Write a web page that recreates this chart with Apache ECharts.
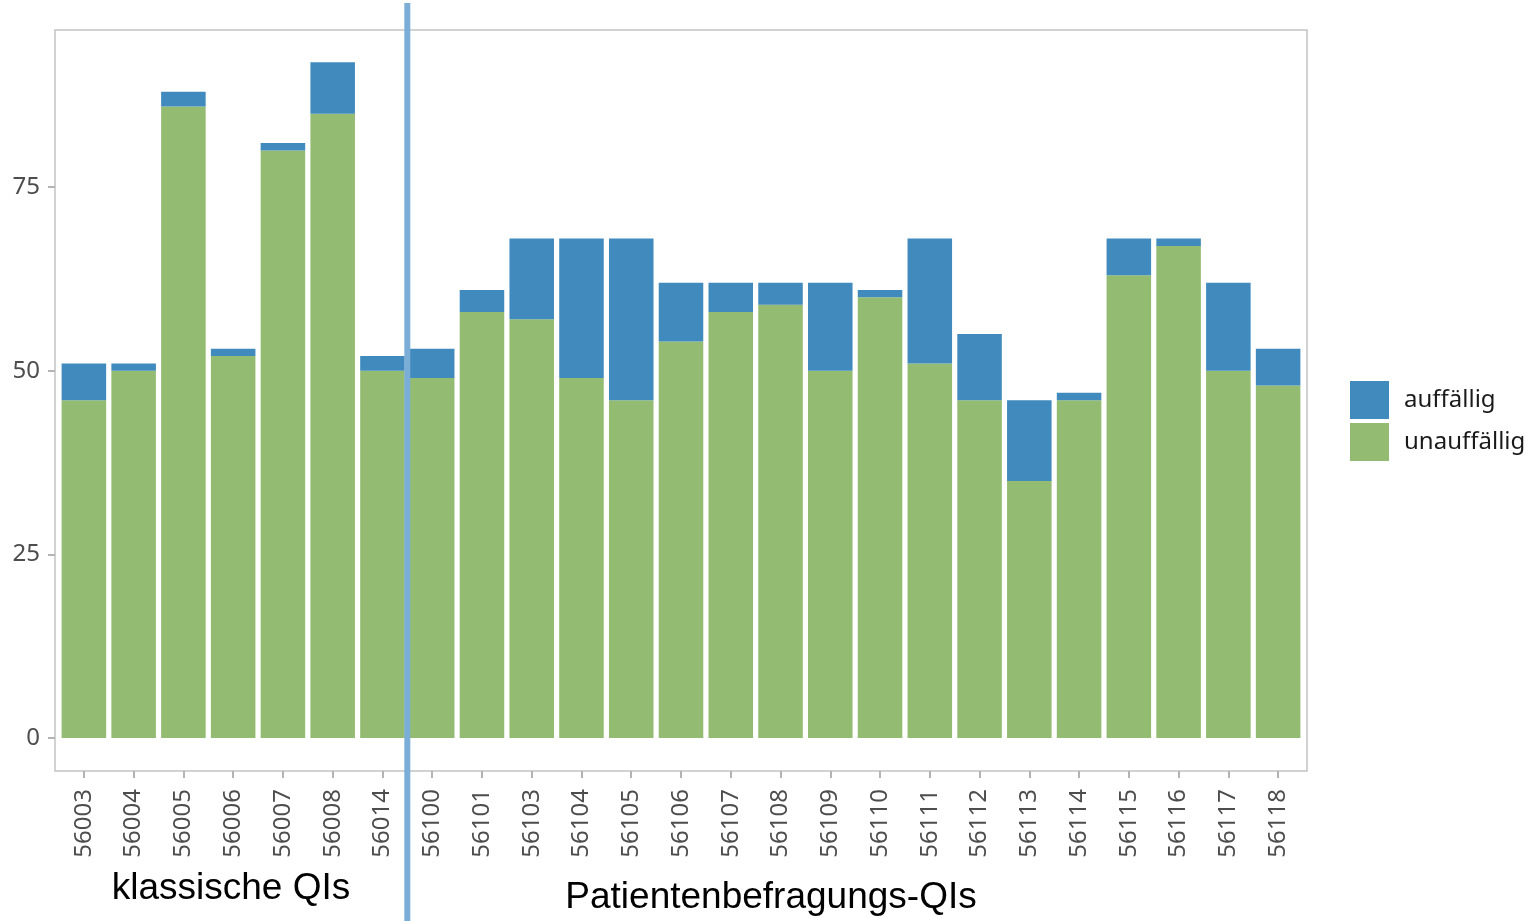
<!DOCTYPE html>
<html>
<head>
<meta charset="utf-8">
<script src="https://cdn.jsdelivr.net/npm/echarts@6/dist/echarts.min.js"></script>
<style>
  html, body { margin: 0; padding: 0; background: #fff; }
  #chart { width: 1532px; height: 921px; }
</style>
</head>
<body>
<div id="chart"></div>
<script>
// Kennzahlen (QI-IDs)
const kategorien = ['56003', '56004', '56005', '56006', '56007', '56008', '56014',
  '56100', '56101', '56103', '56104', '56105', '56106', '56107', '56108', '56109',
  '56110', '56111', '56112', '56113', '56114', '56115', '56116', '56117', '56118'];
// unauffällig (grün, unten)
const unauffaellig = [46, 50, 86, 52, 80, 85, 50,
  49, 58, 57, 49, 46, 54, 58, 59, 50, 60, 51, 46, 35, 46, 63, 67, 50, 48];
// auffällig (blau, oben)
const auffaellig = [5, 1, 2, 1, 1, 7, 2,
  4, 3, 11, 19, 22, 8, 4, 3, 12, 1, 17, 9, 11, 1, 5, 1, 12, 5];
const yTicks = [0, 25, 50, 75];
// Anzahl klassischer QIs (danach Trennlinie)
const anzahlKlassisch = 7;

const chart = echarts.init(document.getElementById('chart'));

const option = {
  animation: false,
  backgroundColor: '#fff',
  grid: { left: 59, right: 229, top: 30, bottom: 150 },
  legend: {
    orient: 'vertical',
    left: 1350,
    top: 381,
    padding: 0,
    itemWidth: 39,
    itemHeight: 38,
    itemGap: 4,
    icon: 'rect',
    data: ['auffällig', 'unauffällig'],
    textStyle: { fontFamily: 'Noto Sans', fontSize: 24, color: '#1a1a1a', padding: [0, 0, 0, 10] }
  },
  xAxis: {
    type: 'category',
    data: kategorien,
    axisLine: { show: false, onZero: false },
    axisTick: { show: true, alignWithLabel: true, length: 7, lineStyle: { color: '#b3b3b3', width: 2 } },
    axisLabel: { rotate: 90, margin: 18, fontFamily: 'Noto Sans', fontSize: 24, color: '#4d4d4d' },
    splitLine: { show: false }
  },
  yAxis: {
    type: 'value',
    min: -4.5,
    max: 96.4,
    offset: 4,
    axisLine: { show: false },
    axisTick: { show: true, length: 7, customValues: yTicks, lineStyle: { color: '#b3b3b3', width: 2 } },
    axisLabel: { customValues: yTicks, margin: 15, fontFamily: 'Noto Sans', fontSize: 24, color: '#4d4d4d' },
    splitLine: { show: false }
  },
  series: [
    {
      name: 'unauffällig',
      type: 'bar',
      stack: 'gesamt',
      data: unauffaellig,
      barCategoryGap: '10.5%',
      itemStyle: { color: '#93bb71' }
    },
    {
      name: 'auffällig',
      type: 'bar',
      stack: 'gesamt',
      data: auffaellig,
      barCategoryGap: '10.5%',
      itemStyle: { color: '#418abd' }
    }
  ]
};
chart.setOption(option);

// Trennlinie zwischen klassischen und Patientenbefragungs-QIs
const xa = chart.convertToPixel({ xAxisIndex: 0 }, anzahlKlassisch - 1);
const xb = chart.convertToPixel({ xAxisIndex: 0 }, anzahlKlassisch);
const xTrenn = (xa + xb) / 2;

chart.setOption({
  graphic: [
    {
      // Panel-Rahmen
      type: 'rect',
      shape: { x: 55, y: 30, width: 1252, height: 741 },
      style: { fill: 'none', stroke: '#c4c4c4', lineWidth: 1.5 },
      silent: true
    },
    {
      type: 'line',
      shape: { x1: xTrenn, y1: 3, x2: xTrenn, y2: 921 },
      style: { stroke: '#7aaed6', lineWidth: 6 },
      z: 100
    },
    {
      type: 'text',
      x: 231,
      y: 889,
      style: {
        text: 'klassische QIs',
        fontFamily: 'Liberation Sans',
        fontSize: 37,
        fill: '#000',
        align: 'center',
        verticalAlign: 'middle'
      }
    },
    {
      type: 'text',
      x: 771,
      y: 898,
      style: {
        text: 'Patientenbefragungs-QIs',
        fontFamily: 'Liberation Sans',
        fontSize: 37,
        fill: '#000',
        align: 'center',
        verticalAlign: 'middle'
      }
    }
  ]
});
</script>
</body>
</html>
